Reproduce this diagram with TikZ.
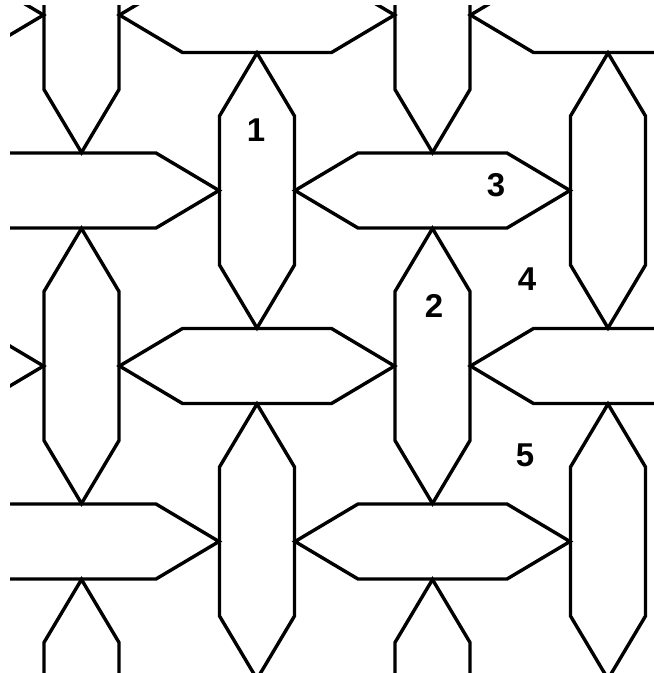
\documentclass[tikz,border=0pt]{standalone}
\usepackage{fontspec}
\setmainfont{Liberation Sans}
\tikzset{
  tile/.style={draw=black,line width=3.4pt,line join=miter},
  lbl/.style={font=\bfseries\fontsize{33}{33}\selectfont,inner sep=0pt}
}
\begin{document}
\begin{tikzpicture}[x=1pt,y=-1pt]
\useasboundingbox (0,0) rectangle (654,673);
\begin{scope}
\clip (10,5) rectangle (654,673);
\foreach \i in {-1,...,3}{
  \foreach \j in {-1,...,4}{
    \pgfmathsetmacro\cx{81.5+175.5*\i}
    \pgfmathsetmacro\cy{15+175.5*\j}
    \pgfmathtruncatemacro\parity{mod(\i+\j+10,2)}
    \ifnum\parity=0
      \draw[tile] (\cx,\cy-137.5) -- ++(37.5,63) -- ++(0,149) -- ++(-37.5,63)
        -- ++(-37.5,-63) -- ++(0,-149) -- cycle;
    \else
      \draw[tile] (\cx-137.5,\cy) -- ++(63,-37.5) -- ++(149,0) -- ++(63,37.5)
        -- ++(-63,37.5) -- ++(-149,0) -- cycle;
    \fi
  }
}
\end{scope}
\node[lbl] (l1) at (256,130) {1};
\node[lbl] (l2) at (434,306) {2};
\node[lbl] (l3) at (496,185) {3};
\node[lbl] (l4) at (527,279) {4};
\node[lbl] (l5) at (525,455) {5};
\end{tikzpicture}
\end{document}
